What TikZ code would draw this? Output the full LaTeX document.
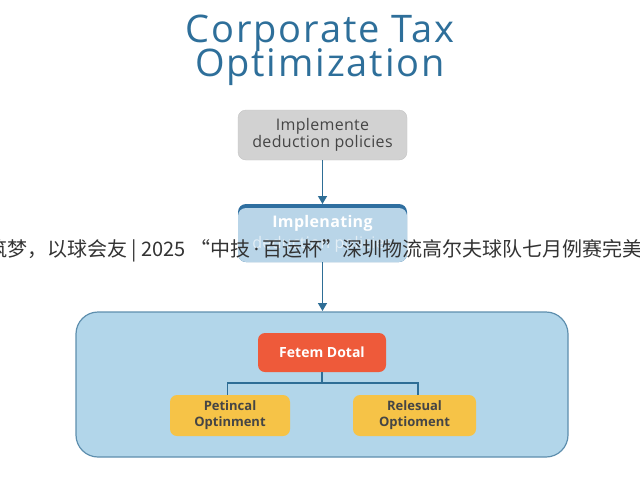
\documentclass[tikz,border=0pt]{standalone}
\usepackage{fontspec}
\setmainfont{Open Sans}
\newfontfamily\cjk{Noto Sans CJK SC}
\newfontfamily\titlefont[LetterSpace=5]{Open Sans}
\newfontfamily\boxfont[LetterSpace=2]{Open Sans}
\usetikzlibrary{arrows.meta}
\definecolor{titleblue}{HTML}{2E6F9A}
\definecolor{grayfill}{HTML}{D2D2D2}
\definecolor{grayline}{HTML}{C4C4C4}
\definecolor{boxblue}{HTML}{B9D5E8}
\definecolor{topblue}{HTML}{2F6FA0}
\definecolor{contfill}{HTML}{B2D6EA}
\definecolor{contline}{HTML}{5E8FAE}
\definecolor{redfill}{HTML}{EE5A3A}
\definecolor{yelfill}{HTML}{F6C347}
\definecolor{txtdark}{HTML}{454545}
\definecolor{linkblue}{HTML}{2E6E96}
\tikzset{
  stepbox/.style={rounded corners=8pt, inner sep=0pt},
  smalltxt/.style={font=\boxfont\fontsize{16}{17}\selectfont, align=center, inner sep=0pt},
  link/.style={draw=linkblue, line width=1.4pt},
  arr/.style={link, -{Triangle[length=8pt,width=9pt]}},
}
\begin{document}
\begin{tikzpicture}[x=1pt,y=-1pt]
\useasboundingbox (0,0) rectangle (640,480);
\fill[white] (0,0) rectangle (640,480);
% title
\node[titleblue, font=\titlefont\fontsize{38}{38}\selectfont, anchor=base, inner sep=0pt] (t1) at (320,42) {Corporate Tax};
\node[titleblue, font=\titlefont\fontsize{38}{38}\selectfont, anchor=base, inner sep=0pt] (t2) at (320,76) {Optimization};
% box 1
\path[stepbox, fill=grayfill, draw=grayline] (238,110) rectangle (407,160);
\node[smalltxt, txtdark] (b1) at (322.5,135) {Implemente\\deduction policies};
\coordinate (b1s) at (322.5,160);
% box 2
\path[stepbox, fill=topblue] (238,204) rectangle (407,262);
\path[stepbox, fill=boxblue] (238,208) rectangle (407,262);
\node[smalltxt, white, font=\boxfont\bfseries\fontsize{16}{17}\selectfont] (b2) at (322.5,223) {Implenating};
\node[smalltxt, white, opacity=0.6] (b2b) at (322.5,244) {deduction policies};
\coordinate (b2n) at (322.5,204);
\coordinate (b2s) at (322.5,262);
\draw[arr] (b1s) -- (b2n);
% container
\path[rounded corners=22pt, fill=contfill, draw=contline, line width=1.2pt] (76,312) rectangle (568,457);
\coordinate (cn) at (322.5,311);
\draw[arr] (b2s) -- (cn);
% red node
\node[stepbox, rounded corners=7pt, fill=redfill, minimum width=128pt, minimum height=39pt, text=white, font=\bfseries\fontsize{14}{17}\selectfont] (red) at (322,352.5) {Fetem Dotal};
% yellow nodes
\node[stepbox, rounded corners=7pt, fill=yelfill, minimum width=120pt, minimum height=41pt, text=txtdark, font=\bfseries\fontsize{13}{16}\selectfont, align=center] (y1) at (230,415.5) {Petincal\\Optinment};
\node[stepbox, rounded corners=7pt, fill=yelfill, minimum width=123pt, minimum height=41pt, text=txtdark, font=\bfseries\fontsize{13}{16}\selectfont, align=center] (y2) at (414.5,415.5) {Relesual\\Optioment};
\coordinate (j) at (322,383);
\draw[link, line width=1.2pt] (red.south) -- (j);
\draw[link, line width=1.2pt] (227.5,395) |- (j) -| (418,395);
% overlay Chinese text
\node[anchor=base west, inner sep=0pt, text=black!80, font=\cjk\fontsize{20}{20}\selectfont] (ov) at (-13,256) {筑梦，以球会友 | 2025 “中技{\rmfamily\,·\,}百运杯”深圳物流高尔夫球队七月例赛完美落幕};
\end{tikzpicture}
\end{document}
